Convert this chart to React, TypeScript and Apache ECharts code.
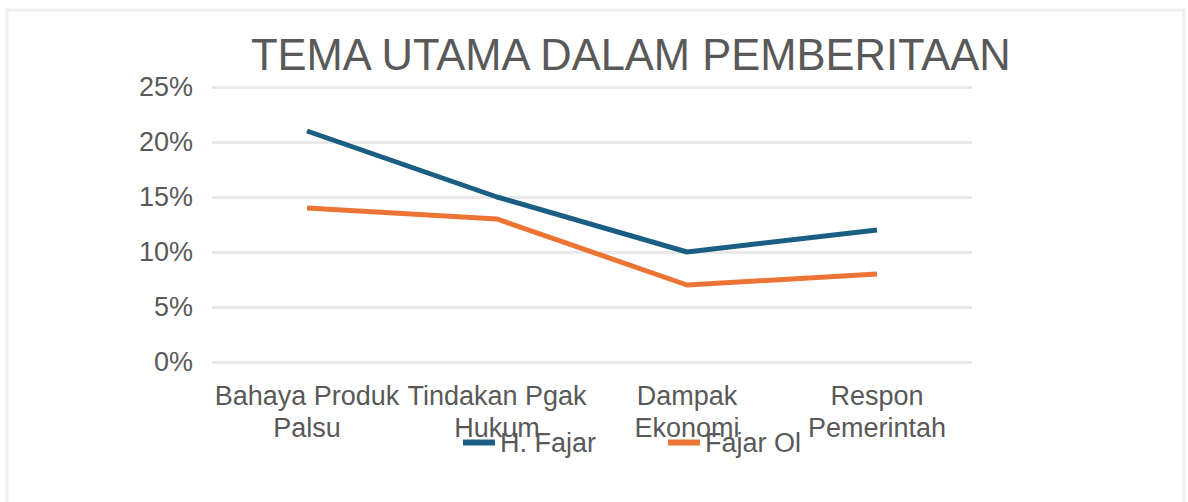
import React, { useEffect, useRef } from "react";
import * as echarts from "echarts";

const categories = ["Bahaya Produk\nPalsu", "Tindakan Pgak\nHukum", "Dampak\nEkonomi", "Respon\nPemerintah"];
const hFajar = [21, 15, 10, 12];
const fajarOl = [14, 13, 7, 8];
const seriesNames = ["H. Fajar", "Fajar Ol"];
const titleText = "TEMA UTAMA DALAM PEMBERITAAN";

const FONT = "'Liberation Sans', Arial, sans-serif";
const GREY = "#595959";

export default function App() {
  const ref = useRef<HTMLDivElement>(null);
  useEffect(() => {
    if (!ref.current) return;
    const chart = echarts.init(ref.current, undefined, { renderer: "svg" });
    chart.setOption({
      animation: false,
      backgroundColor: "#ffffff",
      textStyle: { fontFamily: FONT },
      title: {
        text: titleText,
        left: 246,
        top: 28,
        textStyle: { fontFamily: FONT, fontSize: 43.5, fontWeight: "normal", color: GREY },
      },
      graphic: [
        {
          type: "rect",
          shape: { x: 7, y: 10, width: 1177, height: 500 },
          style: { fill: "none", stroke: "#efefef", lineWidth: 3 },
          silent: true,
        },
      ],
      legend: {
        data: seriesNames,
        left: 463,
        top: 429,
        padding: 0,
        itemWidth: 32,
        itemHeight: 6,
        itemGap: 72,
        icon: "rect",
        textStyle: { fontFamily: FONT, fontSize: 27, color: GREY },
      },
      grid: { left: 212, right: 216, top: 87, bottom: 140, containLabel: false },
      xAxis: {
        type: "category",
        data: categories,
        axisLine: { show: false },
        axisTick: { show: false },
        axisLabel: {
          interval: 0,
          margin: 18,
          color: GREY,
          fontFamily: FONT,
          fontSize: 27,
          lineHeight: 32,
        },
      },
      yAxis: {
        type: "value",
        min: 0,
        max: 25,
        interval: 5,
        axisLine: { show: false },
        axisTick: { show: false },
        axisLabel: {
          formatter: "{value}%",
          margin: 19,
          color: GREY,
          fontFamily: FONT,
          fontSize: 27,
        },
        splitLine: { lineStyle: { color: "#e9e9e9", width: 3 } },
      },
      series: [
        {
          name: seriesNames[0],
          type: "line",
          data: hFajar,
          symbol: "none",
          lineStyle: { color: "#1b5e83", width: 5 },
          itemStyle: { color: "#1b5e83" },
        },
        {
          name: seriesNames[1],
          type: "line",
          data: fajarOl,
          symbol: "none",
          lineStyle: { color: "#ec7434", width: 5 },
          itemStyle: { color: "#ec7434" },
        },
      ],
    });
    return () => chart.dispose();
  }, []);
  return (
    <div
      ref={ref}
      style={{ position: "fixed", left: 0, top: 0, width: 1188, height: 502 }}
    />
  );
}
